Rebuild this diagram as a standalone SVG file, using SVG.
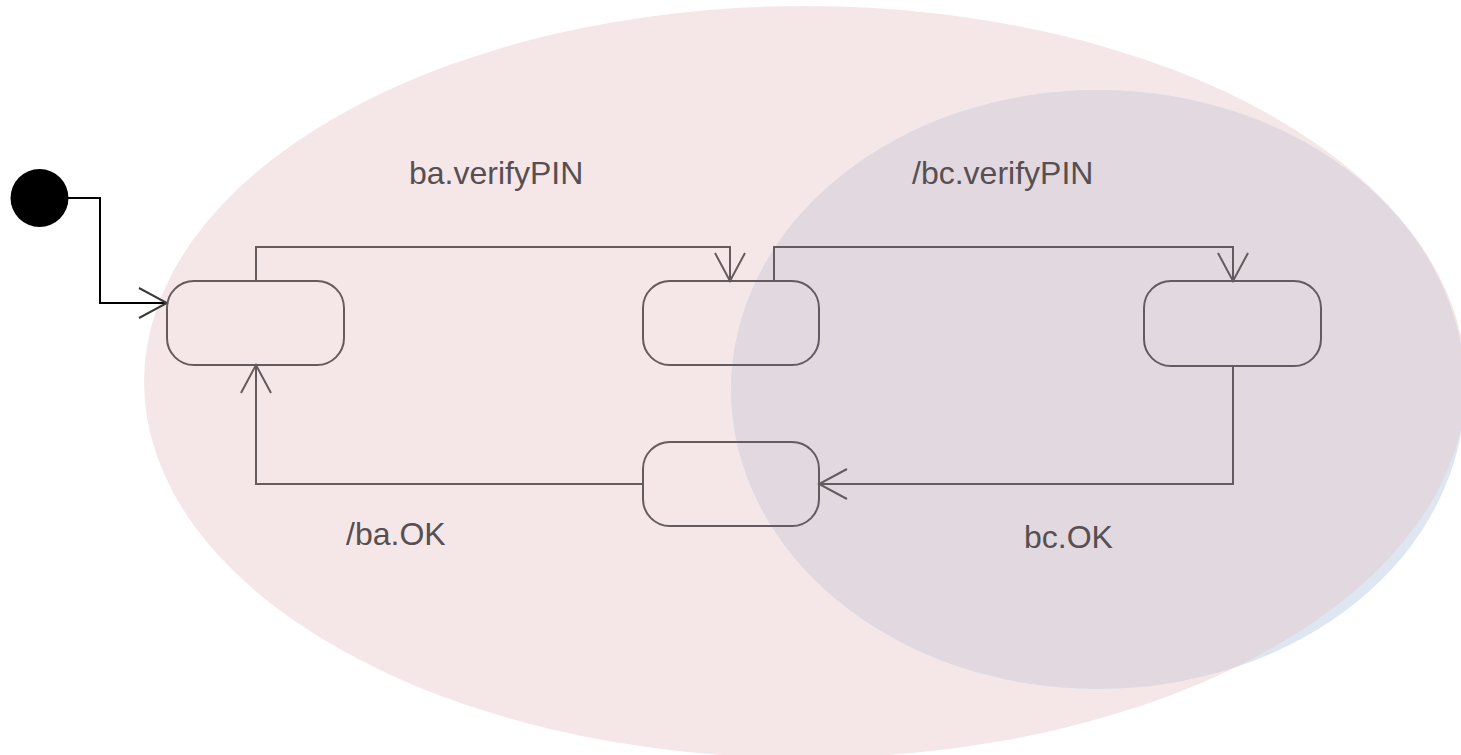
<svg xmlns="http://www.w3.org/2000/svg" width="1461" height="755" viewBox="0 0 1461 755">
  <style>
    .state { fill: none; stroke: #655a5d; stroke-width: 2; }
    .edge { fill: none; stroke: #655a5d; stroke-width: 2; }
    .edge0 { fill: none; stroke: #000000; stroke-width: 2; }
    .lbl { font-family: "Liberation Sans", Arial, sans-serif; font-size: 32px; fill: #574f51; }
  </style>
  <defs>
    <clipPath id="pinkClip">
      <ellipse cx="805" cy="382" rx="661" ry="376"/>
    </clipPath>
    <marker id="arr" markerUnits="userSpaceOnUse" markerWidth="32" markerHeight="34" refX="30" refY="17" orient="auto">
      <path d="M2,2 L30,17 L2,32" fill="none" stroke="#655a5d" stroke-width="2"/>
    </marker>
    <marker id="arr0" markerUnits="userSpaceOnUse" markerWidth="32" markerHeight="34" refX="30" refY="17" orient="auto">
      <path d="M2,2 L30,17 L2,32" fill="none" stroke="#3a3a3a" stroke-width="2"/>
    </marker>
  </defs>
  <rect x="0" y="0" width="1461" height="755" fill="#ffffff"/>
  <g id="regions">
    <ellipse id="regionA" cx="805" cy="382" rx="661" ry="376" fill="#f5e7e8"/>
    <ellipse id="regionB" cx="1098" cy="389.5" rx="367" ry="299.5" fill="#dee6f1"/>
    <ellipse cx="1098" cy="389.5" rx="367" ry="299.5" fill="#e1d8e0" clip-path="url(#pinkClip)"/>
  </g>
  <g id="connectors">
    <path class="edge0" d="M68,198 H100 V303 H167" marker-end="url(#arr0)"/>
    <path class="edge" d="M256,281 V247 H730 V281" marker-end="url(#arr)"/>
    <path class="edge" d="M774,281 V247 H1233 V281" marker-end="url(#arr)"/>
    <path class="edge" d="M1233,366 V484 H819" marker-end="url(#arr)"/>
    <path class="edge" d="M643,484 H256 V365" marker-end="url(#arr)"/>
    <text class="lbl" x="409" y="184">ba.verifyPIN</text>
    <text class="lbl" x="912" y="184">/bc.verifyPIN</text>
    <text class="lbl" x="346" y="545">/ba.OK</text>
    <text class="lbl" x="1024" y="548">bc.OK</text>
  </g>
  <g id="initial">
    <circle cx="39.5" cy="198" r="29" fill="#000000"/>
  </g>
  <g id="s1">
    <rect class="state" x="167" y="281" width="177" height="84" rx="27" ry="27"/>
  </g>
  <g id="s2">
    <rect class="state" x="643" y="281" width="176" height="84" rx="27" ry="27"/>
  </g>
  <g id="s3">
    <rect class="state" x="1144" y="281" width="177" height="85" rx="27" ry="27"/>
  </g>
  <g id="s4">
    <rect class="state" x="643" y="442" width="176" height="84" rx="27" ry="27"/>
  </g>
</svg>
